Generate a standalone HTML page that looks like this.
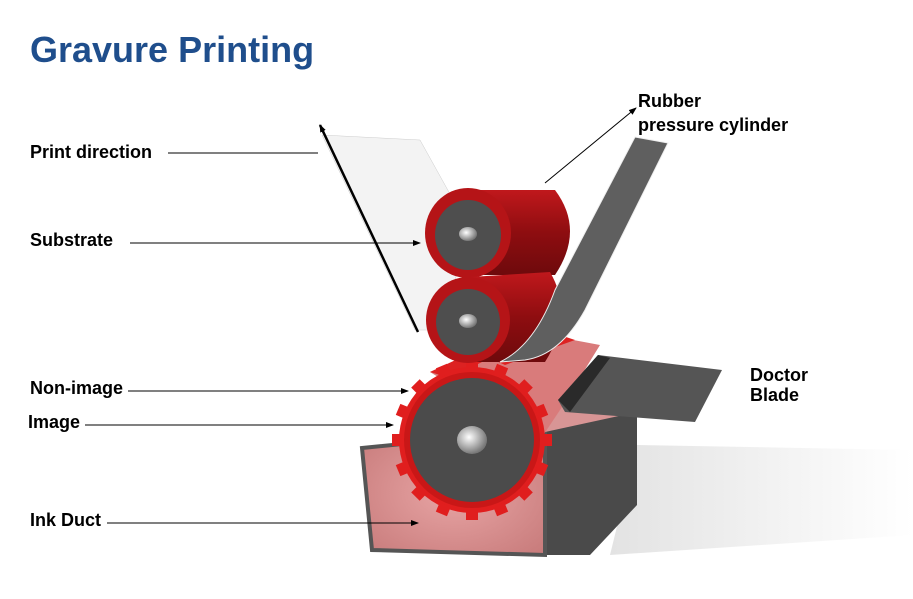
<!DOCTYPE html>
<html><head><style>
html,body{margin:0;padding:0;background:#fff;}
svg{display:block;font-family:"Liberation Sans",sans-serif;}
</style></head><body>
<svg width="913" height="599" viewBox="0 0 913 599">
<defs>
<radialGradient id="pink" cx="0.5" cy="0.5" r="0.7"><stop offset="0" stop-color="#e8a5a5"/><stop offset="1" stop-color="#c77a7a"/></radialGradient>
<linearGradient id="shadow" x1="0" y1="0" x2="1" y2="0"><stop offset="0" stop-color="#d0d0d0"/><stop offset="1" stop-color="#fff"/></linearGradient>
<linearGradient id="redbody" x1="0" y1="0" x2="0" y2="1"><stop offset="0" stop-color="#c0181c"/><stop offset="0.5" stop-color="#8e0d10"/><stop offset="1" stop-color="#6e0a0c"/></linearGradient>
<radialGradient id="hub" cx="0.4" cy="0.4" r="0.6"><stop offset="0" stop-color="#fff"/><stop offset="1" stop-color="#777"/></radialGradient>
<marker id="ar" markerWidth="8" markerHeight="8" refX="7" refY="4" orient="auto" markerUnits="userSpaceOnUse"><path d="M0,1 L8,4 L0,7 Z" fill="#000"/></marker>
</defs>
<text x="30" y="62" font-size="36" font-weight="bold" fill="#1f4e8c">Gravure Printing</text>

<polygon points="637,445 913,450 913,535 610,555" fill="url(#shadow)" opacity="0.6"/>

<polygon points="322,135 420,140 470,230 440,330 415,330" fill="#f3f3f3" stroke="#ccc" stroke-width="0.5"/>

<polygon points="545,430 637,410 637,505 590,555 545,555" fill="#4a4a4a"/>
<polygon points="362,448 545,430 545,555 372,550" fill="url(#pink)" stroke="#555" stroke-width="4"/>
<polygon points="480,380 637,380 637,412 545,432 470,440" fill="#d89595"/>

<polygon points="430,372 520,330 600,345 560,410 540,440" fill="#d97b7b"/>
<polygon points="430,372 520,330 540,333 450,378" fill="#d22"/>
<polygon points="490,358 560,335 575,340 505,365" fill="#d22"/>
<g transform="translate(472,440)" fill="#e01e1e">
<circle r="73"/>
<g id="teeth">
<rect x="-6" y="-80" width="12" height="10"/>
</g>
<use href="#teeth" transform="rotate(22.5)"/><use href="#teeth" transform="rotate(45)"/><use href="#teeth" transform="rotate(67.5)"/><use href="#teeth" transform="rotate(90)"/><use href="#teeth" transform="rotate(112.5)"/><use href="#teeth" transform="rotate(135)"/><use href="#teeth" transform="rotate(157.5)"/><use href="#teeth" transform="rotate(180)"/><use href="#teeth" transform="rotate(202.5)"/><use href="#teeth" transform="rotate(225)"/><use href="#teeth" transform="rotate(247.5)"/><use href="#teeth" transform="rotate(270)"/><use href="#teeth" transform="rotate(292.5)"/><use href="#teeth" transform="rotate(315)"/><use href="#teeth" transform="rotate(337.5)"/>
<circle r="68" fill="#c91717"/>
<circle r="62" fill="#4b4b4b"/>
<ellipse rx="15" ry="14" fill="url(#hub)"/>
</g>

<polygon points="558,400 598,355 722,370 695,422 565,412" fill="#555"/>
<polygon points="558,400 598,355 610,358 570,412" fill="#2a2a2a"/>

<path d="M470,190 L555,190 Q585,230 555,275 L470,275 Z" fill="url(#redbody)"/>
<ellipse cx="468" cy="233" rx="43" ry="45" fill="#b51417"/>
<ellipse cx="468" cy="235" rx="33" ry="35" fill="#4e4e4e"/>
<ellipse cx="468" cy="234" rx="9" ry="7" fill="url(#hub)"/>
<path d="M470,277 L550,272 Q575,315 545,362 L470,362 Z" fill="url(#redbody)"/>
<ellipse cx="468" cy="320" rx="42" ry="43" fill="#b51417"/>
<ellipse cx="468" cy="322" rx="32" ry="33" fill="#4e4e4e"/>
<ellipse cx="468" cy="321" rx="9" ry="7" fill="url(#hub)"/>

<path d="M635,137 L668,143 L585,310 Q560,355 525,360 L500,362 Q535,345 555,290 Z" fill="#5f5f5f" stroke="#eee" stroke-width="1"/>

<line x1="418" y1="332" x2="320" y2="125" stroke="#000" stroke-width="2.5" marker-end="url(#ar)"/>

<g stroke="#000" stroke-width="1">
<line x1="168" y1="153" x2="318" y2="153"/>
<line x1="130" y1="243" x2="420" y2="243" marker-end="url(#ar)"/>
<line x1="128" y1="391" x2="408" y2="391" marker-end="url(#ar)"/>
<line x1="85" y1="425" x2="393" y2="425" marker-end="url(#ar)"/>
<line x1="107" y1="523" x2="418" y2="523" marker-end="url(#ar)"/>
<line x1="545" y1="183" x2="636" y2="108" marker-end="url(#ar)"/>
</g>
<g font-size="18" font-weight="bold" fill="#000">
<text x="30" y="158">Print direction</text>
<text x="30" y="246">Substrate</text>
<text x="30" y="394">Non-image</text>
<text x="28" y="428">Image</text>
<text x="30" y="526">Ink Duct</text>
<text x="638" y="107">Rubber</text>
<text x="638" y="131">pressure cylinder</text>
<text x="750" y="381">Doctor</text>
<text x="750" y="401">Blade</text>
</g>
</svg>
</body></html>
